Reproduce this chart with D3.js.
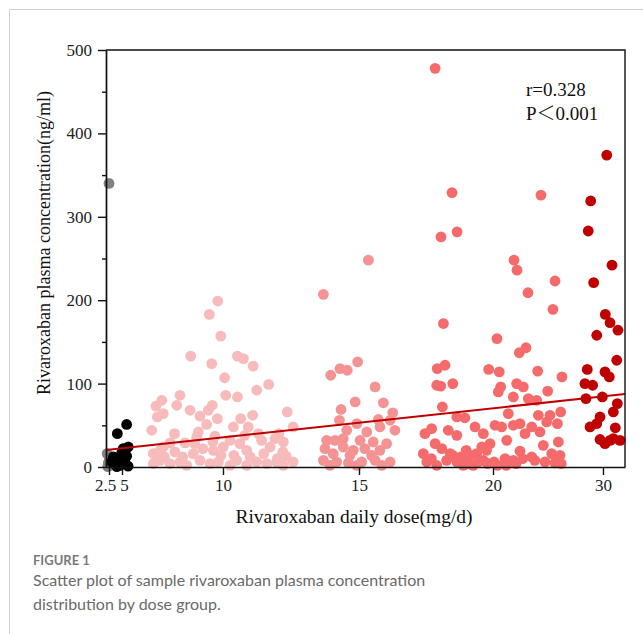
<!DOCTYPE html>
<html>
<head>
<meta charset="utf-8">
<script src="https://cdn.jsdelivr.net/npm/d3@7"></script>
<style>
  body { margin: 0; background: #fff; }
  .serif { font-family: "Times New Roman", "Liberation Serif", serif; }
  .axis text { font-family: "Times New Roman", "Liberation Serif", serif; font-size: 17px; fill: #222; }
  .axis path, .axis line { stroke: #111; stroke-width: 1.4px; }
</style>
</head>
<body>
<script>
// ---------------------------------------------------------------
//  DATA  (dose in mg/d with jitter, concentration in ng/ml)
// ---------------------------------------------------------------
var groups = ["2.5", "5", "10", "15", "20", "30"];

var dose2_5 = [[2.5,340],[2.2,16],[2.6,10],[2.4,5],[2.7,2],[2.3,0.5]];

var dose5 = [[5.23,51],[4.1,40],[5.31,24],[5.06,22],[4.94,17],[3.33,12],[4.29,11],[5.06,9],
  [3.65,4],[4.6,2],[5.15,5],[3.0,6],[5.23,13],[4.0,0.5],[5.3,1],[4.5,7]];

var dose10 = [[9.74,199],[9.32,183],[9.89,157],[8.40,133],[9.44,124],[10.53,133],[10.75,130],
  [11.11,121],[10.06,107],[11.68,99],[11.24,92],[10.10,86],[10.53,84],[7.87,86],[6.97,80],
  [6.68,73],[7.71,74],[9.47,74],[9.27,68],[8.37,68],[7.04,64],[6.75,60],[8.86,61],[9.72,58],
  [10.65,58],[11.09,62],[12.36,66],[9.19,51],[10.38,48],[10.93,48],[12.58,48],[6.47,44],
  [8.78,42],[8.70,36],[9.60,37],[7.38,29],[8.12,29],[7.04,24],[10.26,32],[10.62,28],[11.42,32],
  [11.91,34],[12.22,30],[6.55,16],[7.62,18],[8.53,16],[9.52,20],[10.01,24],[10.87,20],[11.73,24],
  [12.20,18],[12.32,13],[6.88,8],[7.87,6],[8.86,8],[9.77,6],[10.50,8],[11.24,6],[11.97,6],
  [6.55,4],[7.38,4],[8.20,2],[9.36,4],[10.26,2],[10.87,2],[11.61,4],[12.22,2],[12.58,6],
  [7.1,12],[8.0,12],[9.0,22],[9.9,14],[10.4,14],[11.0,12],[11.5,16],[12.0,10],[6.9,20],
  [8.6,28],[10.8,38],[11.3,40],[12.05,40],[9.5,30],[7.6,40]];

var dose15 = [[13.69,207],[15.35,248],[13.96,110],[14.30,118],[14.57,116],[14.95,126],[15.60,96],
  [14.34,69],[14.86,78],[15.91,77],[16.26,65],[14.28,56],[15.72,57],[16.16,56],[16.34,44],
  [14.55,44],[14.92,52],[15.29,42],[15.78,48],[13.81,32],[14.12,32],[14.42,34],[15.04,32],
  [15.53,30],[16.03,28],[13.75,22],[14.42,24],[14.79,20],[15.22,22],[15.78,20],[14.05,16],
  [14.67,14],[15.47,14],[13.69,8],[14.18,6],[14.61,5],[15.10,6],[15.60,8],[16.16,6],
  [13.93,2],[14.92,2],[15.85,2]];

var dose20 = [[17.84,478],[18.47,329],[18.66,282],[18.06,276],[21.91,248],[22.18,236],[24.36,326],
  [25.64,223],[23.18,209],[25.45,189],[18.15,172],[20.36,154],[23.00,143],[22.39,137],[19.84,117],
  [20.57,114],[24.06,115],[26.27,108],[20.70,96],[20.48,90],[22.15,100],[22.75,96],[24.97,91],
  [21.85,84],[23.21,82],[23.97,80],[21.39,64],[24.12,62],[25.18,62],[26.15,66],[21.85,50],
  [22.45,52],[23.52,48],[24.88,54],[25.85,52],[20.18,50],[20.79,48],[19.33,48],[22.91,40],
  [24.27,42],[21.25,32],[19.64,40],[19.89,28],[25.94,30],[22.45,19],[24.57,26],[25.34,16],
  [23.52,12],[21.09,10],[21.85,8],[26.09,14],[19.39,16],[19.58,24],[19.14,14],[19.64,8],
  [24.73,6],[25.64,5],[17.92,118],[18.21,122],[17.90,98],[18.05,97],[18.50,100],[18.11,72],
  [17.46,40],[17.71,46],[18.65,60],[18.95,59],[18.33,44],[18.65,38],[17.84,28],[18.09,22],
  [17.40,16],[18.40,16],[17.53,6],[18.27,8],[18.65,6],[19.02,10],[19.76,20],[18.89,2],
  [17.90,2],[19.26,2],[18.50,14],[19.10,4],[19.45,6],[19.80,4],[20.10,6],[20.40,2],[21.20,2],
  [22.10,4],[22.70,10],[23.8,8],[26.2,4],[19.0,20],[18.8,12],[17.7,10]];

var dose30 = [[30.34,374],[28.88,319],[28.66,283],[30.82,242],[29.15,221],[30.21,183],[30.64,173],
  [31.36,164],[29.43,158],[31.25,128],[28.57,117],[30.18,114],[30.57,108],[28.36,100],[29.06,98],
  [28.45,82],[29.94,84],[31.30,76],[30.94,66],[29.73,60],[29.43,52],[28.82,48],[31.12,47],
  [29.73,33],[30.18,28],[30.94,34],[31.55,32],[30.64,32]];

var groupData = [dose2_5, dose5, dose10, dose15, dose20, dose30];

// regression line end points (dose, concentration)
var regDose = [2.0, 32];
var regConc = [20.5, 87.5];

var xTicks = [2.5, 5, 10, 15, 20, 30];
var yTicks = [0, 100, 200, 300, 400, 500];
var yMinor = [50, 150, 250, 350, 450];

// ---------------------------------------------------------------
//  LAYOUT
// ---------------------------------------------------------------
var W = 643, H = 634;
var plot = {left: 106, top: 50, right: 625, bottom: 467};
var colors = ["#808080", "#000000", "#f7bbbb", "#f49393", "#f56b6b", "#c00000"];

var svg = d3.select("body").append("svg")
    .attr("width", W)
    .attr("height", H);

// page frame
svg.append("path")
    .attr("d", "M9.5," + H + "V9.5H" + W)
    .attr("fill", "none")
    .attr("stroke", "#cfcfcf");

// dose axis is piecewise (group positions are not evenly spaced)
var x = d3.scaleLinear()
    .domain([2.0, 2.5, 5, 10, 15, 20, 30, 32])
    .range([plot.left, 109, 122, 223, 359, 493, 603, plot.right]);

var y = d3.scaleLinear()
    .domain([0, 500])
    .range([plot.bottom, plot.top]);

// points
groupData.forEach(function(pts, i) {
    svg.append("g")
        .selectAll("circle")
        .data(pts)
        .join("circle")
            .attr("cx", function(d) { return x(d[0]); })
            .attr("cy", function(d) { return y(d[1]); })
            .attr("r", 5.4)
            .attr("fill", colors[i]);
});

// regression line
svg.append("line")
    .attr("x1", x(regDose[0]))
    .attr("x2", x(regDose[1]))
    .attr("y1", y(regConc[0]))
    .attr("y2", y(regConc[1]))
    .attr("stroke", "#c00000")
    .attr("stroke-width", 2);

// frame top / right
svg.append("path")
    .attr("d", "M" + plot.left + "," + plot.top + "H" + plot.right + "V" + plot.bottom)
    .attr("fill", "none")
    .attr("stroke", "#111")
    .attr("stroke-width", 1.4);

// y axis
svg.append("g")
    .attr("class", "axis")
    .attr("transform", "translate(" + plot.left + ",0)")
    .call(d3.axisLeft(y).tickValues(yTicks).tickSize(8).tickPadding(6).tickSizeOuter(0));
svg.append("g")
    .attr("class", "axis")
    .attr("transform", "translate(" + plot.left + ",0)")
    .call(d3.axisLeft(y).tickValues(yMinor).tickSize(4).tickFormat("").tickSizeOuter(0));

// x axis
var xg = svg.append("g")
    .attr("class", "axis")
    .attr("transform", "translate(0," + plot.bottom + ")")
    .call(d3.axisBottom(x).tickValues(xTicks).tickSize(8).tickPadding(4).tickSizeOuter(0)
        .tickFormat(function(d, i) { return groups[i]; }));
xg.selectAll(".tick text")
    .attr("dx", function(d) { return d === 2.5 ? -4 : (d === 5 ? 2 : 0); });

// axis titles
svg.append("text")
    .attr("class", "serif")
    .attr("x", 354)
    .attr("y", 523)
    .attr("text-anchor", "middle")
    .attr("font-size", "19.5px")
    .attr("fill", "#111")
    .text("Rivaroxaban daily dose(mg/d)");

svg.append("text")
    .attr("class", "serif")
    .attr("transform", "translate(50,243) rotate(-90)")
    .attr("text-anchor", "middle")
    .attr("font-size", "18px")
    .attr("fill", "#111")
    .text("Rivaroxaban plasma concentration(ng/ml)");

// stats
svg.append("text")
    .attr("class", "serif")
    .attr("x", 526).attr("y", 96)
    .attr("font-size", "19px").attr("fill", "#111")
    .text("r=0.328");
var pt = svg.append("text")
    .attr("class", "serif")
    .attr("x", 526).attr("y", 120)
    .attr("font-size", "19px").attr("fill", "#111");
pt.append("tspan").text("P");
pt.append("tspan").attr("font-family", "'Noto Sans CJK SC', sans-serif").attr("font-weight", 300).text("＜");
pt.append("tspan").text("0.001");

// caption
svg.append("text")
    .attr("x", 33).attr("y", 565)
    .attr("font-family", "Lato, 'Open Sans', sans-serif")
    .attr("font-size", "13px")
    .attr("font-weight", 700)
    .attr("fill", "#7a7a7a")
    .text("FIGURE 1");
svg.append("text")
    .attr("x", 33).attr("y", 586)
    .attr("font-family", "Lato, 'Open Sans', sans-serif")
    .attr("font-size", "16px")
    .attr("fill", "#6a6a6a")
    .text("Scatter plot of sample rivaroxaban plasma concentration");
svg.append("text")
    .attr("x", 33).attr("y", 610)
    .attr("font-family", "Lato, 'Open Sans', sans-serif")
    .attr("font-size", "16px")
    .attr("fill", "#6a6a6a")
    .text("distribution by dose group.");
</script>
</body>
</html>
